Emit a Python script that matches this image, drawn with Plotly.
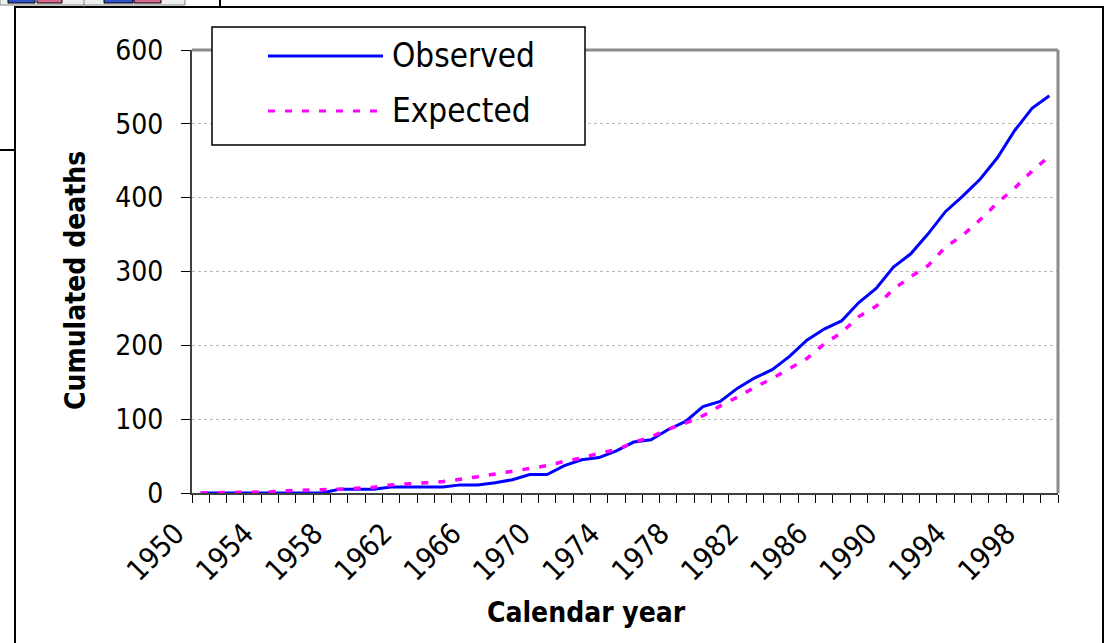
import plotly.graph_objects as go

years = list(range(1950, 2000))
observed = [0, 0, 0, 0, 0, 0, 0, 0, 5, 5,
            5, 8, 8, 8, 8, 11, 11, 14, 18, 25,
            25, 37, 45, 48, 57, 69, 72, 86, 97, 117,
            124, 142, 156, 167, 185, 207, 222, 233, 258, 277,
            306, 324, 351, 381, 402, 425, 454, 491, 521, 538]
expected = [0, 0.3, 1, 1, 1.5, 3.2, 4.4, 4.5, 5, 6.5,
            7.8, 11, 12, 13.8, 15.5, 18.3, 22, 25.7, 29.2, 33.5,
            37, 43, 47.3, 54, 58.5, 68.5, 76, 86.4, 94.7, 104.6,
            118, 130, 143.4, 155, 168, 182, 202, 217, 239, 253,
            276, 293, 308, 333, 349, 370, 393, 413, 436, 456]
tick_years = list(range(1950, 2000, 4))
series_names = ["Observed", "Expected"]
x_title = "Calendar year"
y_title = "Cumulated deaths"

FONT = "Tahoma, 'DejaVu Sans Condensed', 'DejaVu Sans', sans-serif"
W, H = 1113, 643
L, R, T, B = 192, 1058, 50, 493
DASH = "7px,10px"


def px(x):
    return (x - L) / (R - L)


def py(y):
    return (B - y) / (B - T)


fig = go.Figure()
fig.add_trace(go.Scatter(x=years, y=observed, mode="lines", name=series_names[0],
                         line=dict(color="#0000ff", width=3)))
fig.add_trace(go.Scatter(x=years, y=expected, mode="lines", name=series_names[1],
                         line=dict(color="#ff00ff", width=3.5, dash=DASH)))

shapes = []
# plot-area border (top/right, gray)
shapes.append(dict(type="line", xref="paper", yref="paper", x0=px(L), x1=px(R), y0=py(T), y1=py(T),
                   line=dict(color="#8c8c8c", width=3), layer="above"))
shapes.append(dict(type="line", xref="paper", yref="paper", x0=px(R), x1=px(R), y0=py(T), y1=py(B),
                   line=dict(color="#8c8c8c", width=3), layer="above"))
# outer chart frame
shapes.append(dict(type="rect", xref="paper", yref="paper", x0=px(15), x1=px(1103), y0=py(7), y1=py(700),
                   line=dict(color="black", width=2), layer="above"))
# manual legend
shapes.append(dict(type="rect", xref="paper", yref="paper", x0=px(212), x1=px(585), y0=py(27), y1=py(145),
                   line=dict(color="black", width=1.5), fillcolor="white", layer="above"))
shapes.append(dict(type="line", xref="paper", yref="paper", x0=px(268), x1=px(383), y0=py(56), y1=py(56),
                   line=dict(color="#0000ff", width=3), layer="above"))
shapes.append(dict(type="line", xref="paper", yref="paper", x0=px(268), x1=px(380), y0=py(111), y1=py(111),
                   line=dict(color="#ff00ff", width=3, dash=DASH), layer="above"))
# background slide fragments (top-left)
shapes.append(dict(type="rect", xref="paper", yref="paper", x0=px(0), x1=px(185), y0=py(-2), y1=py(5),
                   line=dict(color="#888888", width=1), fillcolor="#eeeeee", layer="above"))
for x0, x1, c in [(8, 35, "#3050c8"), (37, 62, "#d86a8a"), (104, 133, "#3050c8"), (134, 161, "#d86a8a")]:
    shapes.append(dict(type="rect", xref="paper", yref="paper", x0=px(x0), x1=px(x1), y0=py(-2), y1=py(3),
                       line=dict(color="black", width=1), fillcolor=c, layer="above"))
shapes.append(dict(type="line", xref="paper", yref="paper", x0=px(84), x1=px(84), y0=py(0), y1=py(7),
                   line=dict(color="#888888", width=1), layer="above"))
shapes.append(dict(type="line", xref="paper", yref="paper", x0=px(220), x1=px(220), y0=py(0), y1=py(7),
                   line=dict(color="black", width=2), layer="above"))
shapes.append(dict(type="line", xref="paper", yref="paper", x0=px(0), x1=px(15), y0=py(150), y1=py(150),
                   line=dict(color="black", width=2), layer="above"))

annotations = [
    dict(text=series_names[0], xref="paper", yref="paper", x=px(390), y=py(55), xanchor="left",
         yanchor="middle", showarrow=False, font=dict(family=FONT, size=33, color="black")),
    dict(text=series_names[1], xref="paper", yref="paper", x=px(390), y=py(110), xanchor="left",
         yanchor="middle", showarrow=False, font=dict(family=FONT, size=33, color="black")),
    dict(text="<b>%s</b>" % x_title, xref="paper", yref="paper", x=px(586), y=py(612),
         xanchor="center", yanchor="middle", showarrow=False, font=dict(family=FONT, size=28, color="black")),
    dict(text="<b>%s</b>" % y_title, xref="paper", yref="paper", x=px(75), y=py(280),
         xanchor="center", yanchor="middle", textangle=-90, showarrow=False,
         font=dict(family=FONT, size=28, color="black")),
]

fig.update_layout(
    width=W, height=H, autosize=False,
    margin=dict(l=L, r=W - R, t=T, b=H - B),
    paper_bgcolor="white", plot_bgcolor="white",
    showlegend=False,
    shapes=shapes, annotations=annotations,
    font=dict(family=FONT, color="black"),
)
fig.update_xaxes(
    type="linear", range=[1949.5, 1999.5],
    tickvals=tick_years, ticktext=[str(y) for y in tick_years],
    ticks="", tickangle=-45, tickfont=dict(family=FONT, size=29, color="black"),
    ticklabelshift=-25, ticklabelstandoff=10,
    showgrid=False, zeroline=False,
    showline=True, linecolor="#404040", linewidth=2,
    minor=dict(ticks="outside", tick0=1949.5, dtick=1, ticklen=8, tickcolor="black", tickwidth=1, showgrid=False),
)
fig.update_yaxes(
    range=[0, 600], dtick=100, tick0=0,
    ticks="outside", ticklen=9, tickcolor="black", tickwidth=1,
    tickfont=dict(family=FONT, size=28, color="black"),
    ticklabelstandoff=12,
    showgrid=True, gridcolor="#b8b8b8", griddash="dot", gridwidth=1,
    zeroline=False, showline=True, linecolor="#404040", linewidth=2,
)

fig.write_html("out.html")
